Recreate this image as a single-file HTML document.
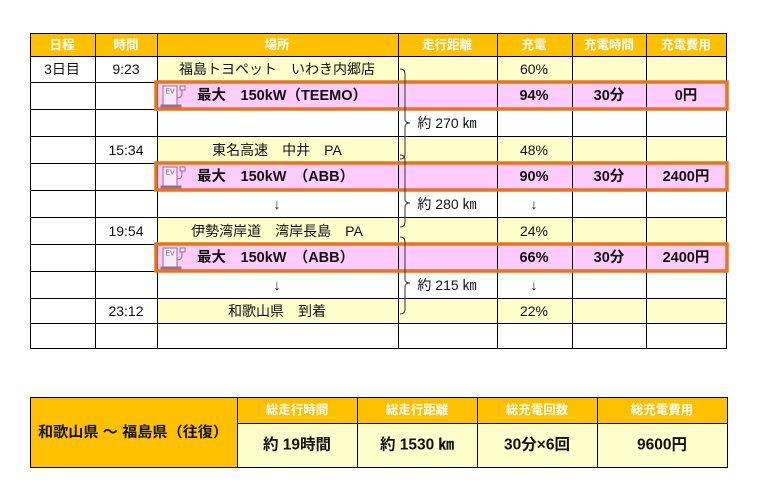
<!DOCTYPE html>
<html><head><meta charset="utf-8"><style>
html,body{margin:0;padding:0;background:#fff;width:763px;height:498px;overflow:hidden}
svg{display:block}
text{font-family:"Liberation Sans","Noto Sans CJK JP",sans-serif;font-size:14px;fill:#111;text-anchor:middle;dominant-baseline:central}
.h{fill:#fff;font-weight:bold;font-size:12.5px}
.b{font-weight:bold;font-size:14.5px}
.big{font-weight:bold;font-size:15.5px}
</style></head><body>
<svg width="763" height="498" viewBox="0 0 763 498">
<rect x="30" y="33" width="697" height="23" fill="#ffc000"/>
<g fill="#ffffcc">
<rect x="157" y="56" width="570" height="26.5"/>
<rect x="157" y="136" width="570" height="27"/>
<rect x="157" y="217" width="570" height="27"/>
<rect x="157" y="298" width="570" height="25"/>
</g>
<g fill="#ffccff">
<rect x="157" y="82" width="570" height="27"/>
<rect x="157" y="163" width="570" height="27"/>
<rect x="157" y="244" width="570" height="27"/>
</g>
<g stroke="#000" stroke-width="1" fill="none">
<rect x="30.5" y="33.5" width="696" height="315"/>
<path d="M30 56.5H727M30 82.5H727M30 109.5H727M30 136.5H727M30 163.5H727M30 190.5H727M30 217.5H727M30 244.5H727M30 271.5H727M30 298.5H727M30 323.5H727"/>
<path d="M95.5 33V348M157.5 33V348M398.5 33V348M497.5 33V348M572.5 33V348M646.5 33V348"/>
</g>
<text class="h" x="62" y="45">日程</text>
<text class="h" x="126" y="45">時間</text>
<text class="h" x="277" y="45">場所</text>
<text class="h" x="447" y="45">走行距離</text>
<text class="h" x="534" y="45">充電</text>
<text class="h" x="609" y="45">充電時間</text>
<text class="h" x="686" y="45">充電費用</text>
<text x="62" y="69">3日目</text><text x="126" y="69">9:23</text>
<text x="277" y="69">福島トヨペット　いわき内郷店</text><text x="534" y="69">60%</text>
<text x="126" y="150">15:34</text><text x="277" y="150">東名高速　中井　PA</text><text x="534" y="150">48%</text>
<text x="277" y="204">↓</text><text x="534" y="204">↓</text>
<text x="126" y="231">19:54</text><text x="277" y="231">伊勢湾岸道　湾岸長島　PA</text><text x="534" y="231">24%</text>
<text x="277" y="285">↓</text><text x="534" y="285">↓</text>
<text x="126" y="311">23:12</text><text x="277" y="311">和歌山県　到着</text><text x="534" y="311">22%</text>
<text class="b" x="197" y="96" style="text-anchor:start">最大　150kW（TEEMO）</text>
<text class="b" x="534" y="96">94%</text><text class="b" x="609" y="96">30分</text><text class="b" x="686" y="96">0円</text>
<text class="b" x="197" y="177" style="text-anchor:start">最大　150kW　（ABB）</text>
<text class="b" x="534" y="177">90%</text><text class="b" x="609" y="177">30分</text><text class="b" x="686" y="177">2400円</text>
<text class="b" x="197" y="258" style="text-anchor:start">最大　150kW　（ABB）</text>
<text class="b" x="534" y="258">66%</text><text class="b" x="609" y="258">30分</text><text class="b" x="686" y="258">2400円</text>
<g stroke="#9a6a9a" stroke-width="1" fill="#f8e8f8">
<g transform="translate(163,84)"><rect x="0" y="2" width="14" height="19"/><rect x="-2" y="21" width="20" height="3" fill="#9a6a9a"/><path d="M14 14q5 0 5-5v-3" fill="none"/><rect x="17" y="2" width="5" height="4"/></g>
<g transform="translate(163,165)"><rect x="0" y="2" width="14" height="19"/><rect x="-2" y="21" width="20" height="3" fill="#9a6a9a"/><path d="M14 14q5 0 5-5v-3" fill="none"/><rect x="17" y="2" width="5" height="4"/></g>
<g transform="translate(163,246)"><rect x="0" y="2" width="14" height="19"/><rect x="-2" y="21" width="20" height="3" fill="#9a6a9a"/><path d="M14 14q5 0 5-5v-3" fill="none"/><rect x="17" y="2" width="5" height="4"/></g>
</g>
<text x="170" y="92" style="font-size:7px;fill:#666">EV</text><text x="170" y="173" style="font-size:7px;fill:#666">EV</text><text x="170" y="254" style="font-size:7px;fill:#666">EV</text>
<g stroke="#e8741e" stroke-width="3.5" fill="none">
<rect x="156" y="82" width="571" height="27"/>
<rect x="156" y="163" width="571" height="27"/>
<rect x="156" y="244" width="571" height="27"/>
</g>
<g stroke="#333" stroke-width="1" fill="none">
<path d="M400 69q5 0 5 5v45q0 4 5 4q-5 0-5 4v27q0 5-5 5"/>
<path d="M400 155q5 0 5 5v39q0 4 5 4q-5 0-5 4v15q0 5-5 5"/>
<path d="M400 237q5 0 5 5v37q0 4 5 4q-5 0-5 4v22q0 5-5 5"/>
</g>
<text x="447" y="123">約 270 ㎞</text>
<text x="447" y="204">約 280 ㎞</text>
<text x="447" y="285">約 215 ㎞</text>
<rect x="30" y="397" width="698" height="26" fill="#ffc000"/>
<rect x="30" y="397" width="207" height="71" fill="#ffc000"/>
<rect x="237" y="423" width="491" height="45" fill="#ffffcc"/>
<g stroke="#000" fill="none">
<rect x="30.5" y="397.5" width="697" height="70"/>
<path d="M237.5 397V468M357.5 397V468M477.5 397V468M597.5 397V468M237 423.5H728"/>
</g>
<text class="b" x="133" y="433" textLength="190" lengthAdjust="spacingAndGlyphs">和歌山県 ～ 福島県（往復）</text>
<text class="h" x="297" y="410">総走行時間</text>
<text class="h" x="417" y="410">総走行距離</text>
<text class="h" x="537" y="410">総充電回数</text>
<text class="h" x="662" y="410">総充電費用</text>
<text class="big" x="297" y="445">約 19時間</text>
<text class="big" x="417" y="445">約 1530 ㎞</text>
<text class="big" x="537" y="445">30分×6回</text>
<text class="big" x="662" y="445">9600円</text>
</svg>
</body></html>
